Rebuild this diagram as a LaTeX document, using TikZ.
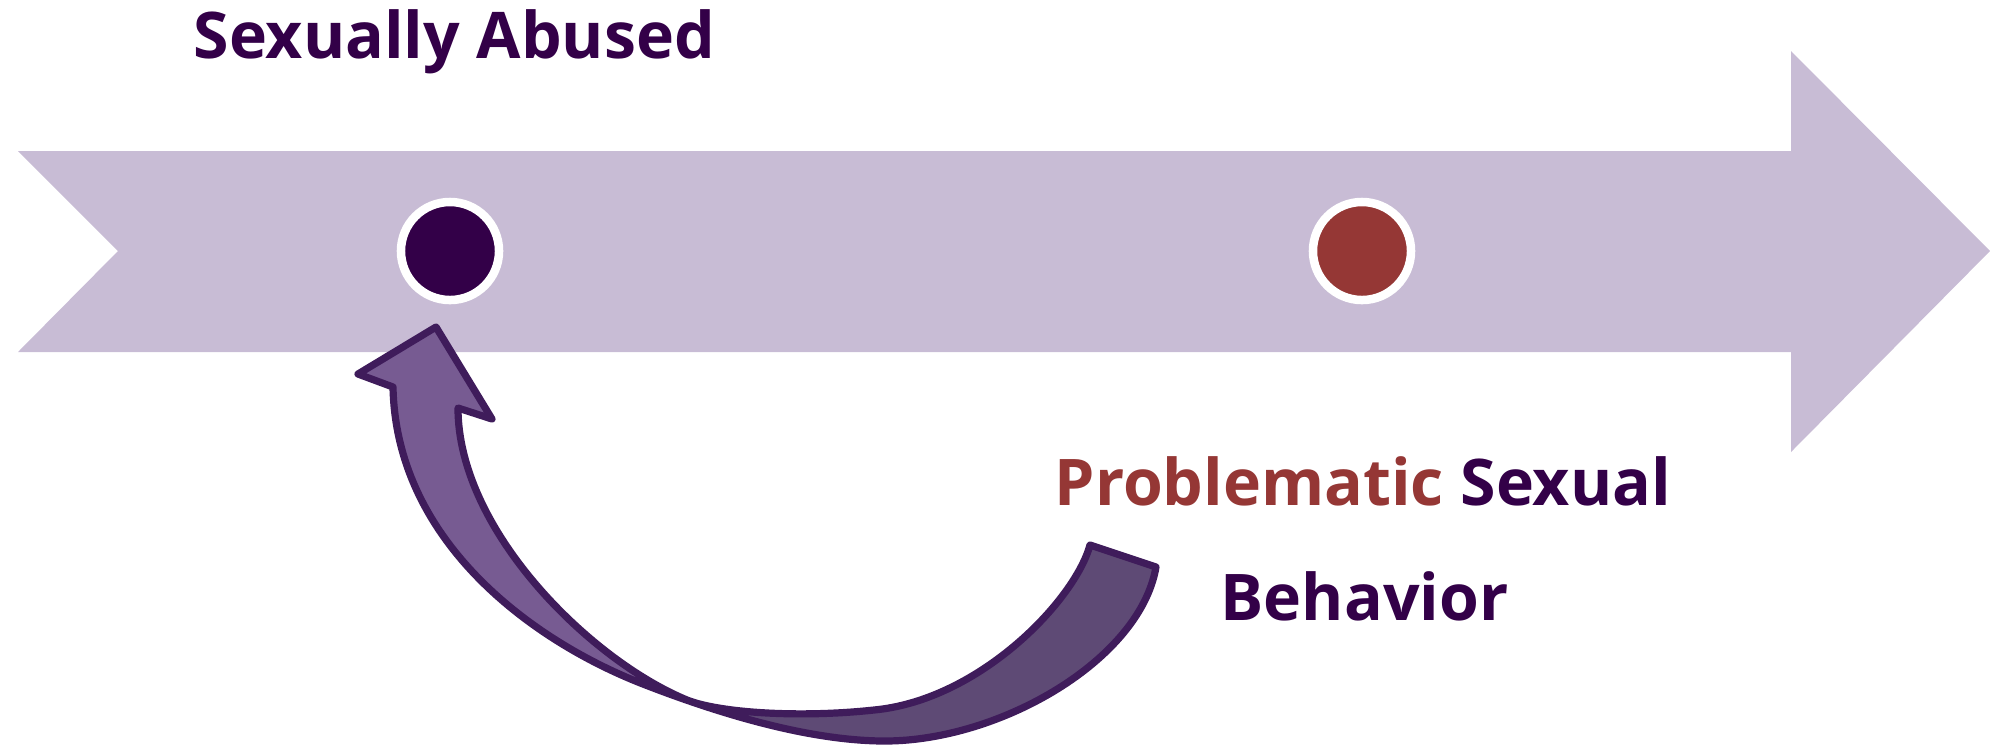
\documentclass[tikz,border=0pt]{standalone}
\usepackage{fontspec}
\newfontfamily\labelfont{Open Sans}
\definecolor{bandlilac}{HTML}{C8BCD5}
\definecolor{deeppurple}{HTML}{330048}
\definecolor{brickred}{HTML}{953735}
\definecolor{arrowlight}{HTML}{775B92}
\definecolor{arrowdark}{HTML}{5E4A75}
\definecolor{arrowline}{HTML}{3F1C5B}
\begin{document}
\begin{tikzpicture}[x=0.01cm,y=-0.01cm,
  dot/.style={circle,draw=white,line width=0.085cm,minimum size=0.98cm,inner sep=0pt},
  caption/.style={anchor=base west,inner sep=0pt,font=\labelfont\bfseries\fontsize{18.3}{22}\selectfont},
  curved/.style={draw=arrowline,line width=0.072cm,line join=round}]
\useasboundingbox (0,0) rectangle (1990,744);

% timeline band with notched tail and broad head
\fill[bandlilac] (18,151) -- (1791,151) -- (1791,51) -- (1990,251)
  -- (1791,452) -- (1791,352) -- (18,352) -- (118,251) -- cycle;

% milestones on the band
\node[dot,fill=deeppurple] (abused) at (450,251) {};
\node[dot,fill=brickred] (behavior) at (1362,251) {};

% labels
\node[caption,text=deeppurple] (abusedlabel) at (193,58) {Sexually Abused};
\node[caption] (psblabel) at (1054,505) {\textcolor{brickred}{Problematic} \textcolor{deeppurple}{Sexual}};
\node[caption,text=deeppurple] (psblabel2) at (1220,620) {Behavior};

% curved return arrow: outline of the whole ribbon
\coordinate (tip) at (436,327);
\coordinate (barbL) at (358,374);
\coordinate (barbR) at (492,419);
\coordinate (tailout) at (1156,567);
\coordinate (tailin) at (1090,545);
\def\ribbon{(barbL) -- (393,387)
  .. controls (396,540) and (530,640) .. (643,684)
  .. controls (720,714) and (810,741) .. (885,741)
  .. controls (1000,741) and (1140,660) .. (tailout)
  -- (tailin)
  .. controls (1075,600) and (980,700) .. (874,710)
  .. controls (800,718) and (720,713) .. (687,700)
  .. controls (590,660) and (458,530) .. (458,408)
  -- (barbR) -- (tip) -- cycle}
% front face
\fill[arrowlight] \ribbon;
% back face, right of the pinch
\begin{scope}
  \clip (700,500) rectangle (1250,760);
  \fill[arrowdark] \ribbon;
\end{scope}
% outline
\draw[curved] \ribbon;
\end{tikzpicture}
\end{document}
